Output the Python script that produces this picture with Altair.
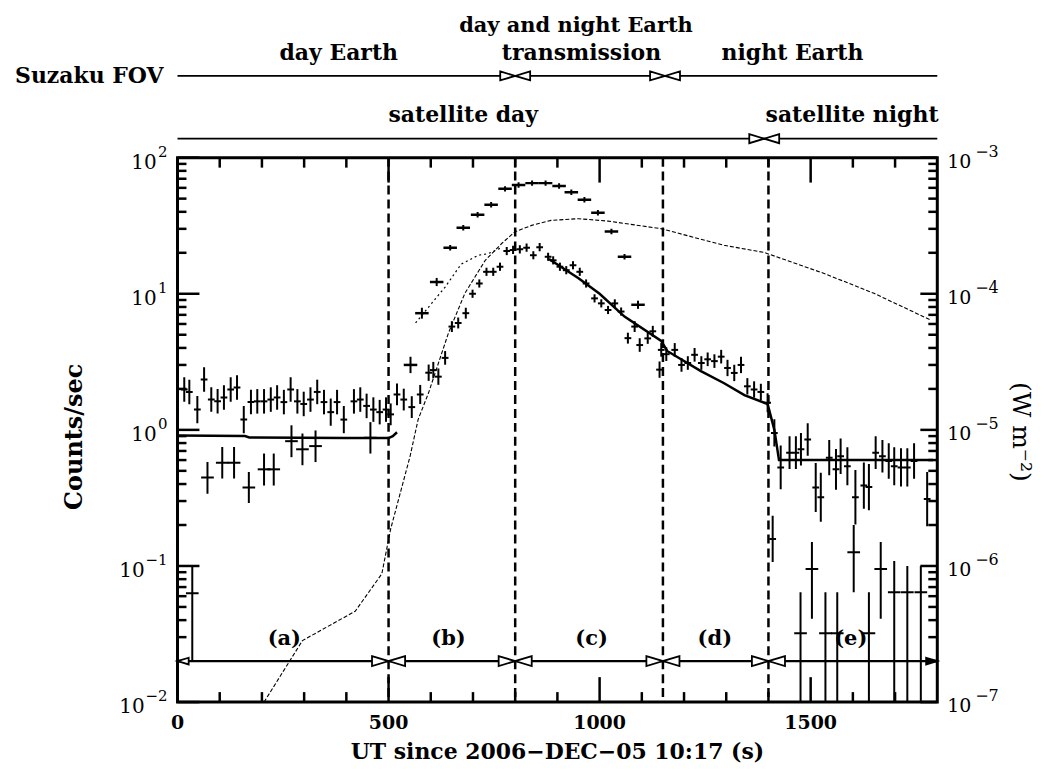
import altair as alt
import pandas as pd

# ---------------- data ----------------
# main light curve (counts/sec), 16 s bins, symmetric error in dex
main_t = [16, 28, 47, 63, 80, 95, 110, 126, 141, 157, 174, 189, 205, 221, 236, 252, 268, 284, 299, 315,
          331, 347, 363, 378, 394, 418, 433, 448, 464, 479, 494,
          505, 520, 536, 555, 575, 595, 606, 618, 634, 650, 665, 683, 699, 715, 732, 748, 764, 780, 795,
          811, 827, 843, 858, 878, 890, 906, 921, 937,
          953, 968, 988, 1004, 1020, 1036, 1051, 1067, 1083, 1095, 1114, 1126, 1142, 1146, 1158, 1178, 1194,
          1209, 1225, 1241, 1256, 1272, 1288, 1303, 1319, 1335, 1350, 1366, 1382, 1398,
          1410, 1414, 1429, 1450, 1465, 1477, 1493, 1512, 1524, 1544, 1560, 1571, 1587, 1606, 1626, 1638,
          1654, 1670, 1685, 1698, 1714, 1729, 1745, 1776]
main_v = [1.98, 1.9, 1.41, 2.34, 1.67, 1.62, 1.73, 1.98, 2.05, 1.19, 1.6, 1.62, 1.62, 1.67, 1.73, 1.6, 1.98, 1.62, 1.55, 1.67,
          1.9, 1.6, 1.35, 1.6, 1.19, 1.62, 1.67, 1.5, 1.41, 1.35, 1.41,
          1.3, 1.82, 1.67, 1.47, 1.82, 2.63, 2.75, 2.46, 3.38, 5.74, 6.1, 7.2, 10.0, 11.9, 14.5, 14.5, 15.8, 20.6, 21.0,
          21.2, 21.8, 19.2, 22.0, 18.7, 17.6, 15.8, 14.9, 16.2,
          14.5, 11.9, 9.25, 8.5, 7.6, 8.5, 7.4, 4.72, 5.74, 4.2, 4.7, 5.3, 2.77, 3.87, 3.6, 3.87, 3.0,
          3.1, 3.56, 3.1, 3.3, 3.2, 3.45, 2.85, 2.62, 3.0, 2.09, 1.98, 1.9, 1.58,
          0.158, 0.95, 0.53, 0.68, 0.68, 0.72, 0.85, 0.377, 0.32, 0.625, 0.513, 0.64, 0.54, 0.32, 0.39, 0.38,
          0.68, 0.64, 0.59, 0.54, 0.53, 0.53, 0.59, 0.31]
main_e = [0.09, 0.09, 0.1, 0.09, 0.09, 0.09, 0.09, 0.09, 0.09, 0.1, 0.09, 0.09, 0.09, 0.09, 0.09, 0.09, 0.09, 0.09, 0.09, 0.09,
          0.09, 0.09, 0.1, 0.09, 0.1, 0.09, 0.09, 0.09, 0.09, 0.09, 0.09,
          0.08, 0.08, 0.08, 0.08, 0.07, 0.06, 0.06, 0.06, 0.05, 0.04, 0.04, 0.04, 0.03, 0.03, 0.03, 0.03, 0.03, 0.03, 0.03,
          0.03, 0.03, 0.03, 0.03, 0.03, 0.03, 0.03, 0.03, 0.03,
          0.03, 0.03, 0.03, 0.03, 0.03, 0.03, 0.03, 0.04, 0.04, 0.05, 0.04, 0.04, 0.06, 0.05, 0.05, 0.05, 0.05,
          0.05, 0.05, 0.05, 0.05, 0.05, 0.05, 0.06, 0.06, 0.06, 0.06, 0.06, 0.06, 0.07,
          0.17, 0.1, 0.16, 0.12, 0.12, 0.12, 0.12, 0.18, 0.18, 0.13, 0.15, 0.13, 0.14, 0.2, 0.17, 0.17,
          0.12, 0.12, 0.13, 0.14, 0.14, 0.14, 0.13, 0.2]

# second (lower) band, 32 s bins, explicit error limits
low_t = [35, 71, 106, 134, 169, 205, 228, 270, 296, 327, 457,
         1476, 1503, 1535, 1563, 1602, 1638, 1666, 1698, 1729, 1761]
low_v = [0.063, 0.447, 0.574, 0.574, 0.377, 0.513, 0.513, 0.826, 0.72, 0.76, 0.875,
         0.032, 0.095, 0.032, 0.032, 0.126, 0.032, 0.095, 0.064, 0.064, 0.064]
low_lo = [0.02, 0.34, 0.44, 0.44, 0.29, 0.39, 0.39, 0.63, 0.55, 0.58, 0.67,
          0.005, 0.041, 0.005, 0.005, 0.064, 0.005, 0.041, 0.005, 0.005, 0.005]
low_hi = [0.1, 0.58, 0.75, 0.75, 0.49, 0.67, 0.67, 1.08, 0.94, 0.99, 1.14,
          0.064, 0.15, 0.064, 0.064, 0.2, 0.064, 0.15, 0.109, 0.1, 0.1]

# upper series of horizontal bars (32 s bins)
dash_t = [552, 579, 614, 646, 677, 711, 743, 776, 808, 840, 872, 904, 933, 964, 996, 1028, 1059, 1091]
dash_v = [3.0, 7.2, 12.2, 21.8, 30.6, 38.1, 45.1, 59.0, 63.0, 65.0, 65.0, 62.0, 55.7, 49.0, 39.4, 28.7, 18.7, 8.3]
dash_e = [0.06, 0.04, 0.03, 0.02, 0.02, 0.02, 0.02, 0.02, 0.02, 0.02, 0.02, 0.02, 0.02, 0.02, 0.02, 0.02, 0.02, 0.03]

# thin dotted curve in phase (b)
dot_t = [564, 602, 634, 672, 713, 736, 770]
dot_v = [6.1, 8.5, 11.2, 16.5, 19.2, 19.7, 22.0]

# solid model curve, in segments
model_t = [0, 160, 170, 400, 500, 510, 520,
           880, 950, 1000, 1059, 1146, 1160, 1240, 1295, 1343, 1398, 1414, 1425, 1600, 1790]
model_v = [0.91, 0.9, 0.88, 0.87, 0.87, 0.9, 0.96,
           18.0, 13.0, 10.0, 6.8, 4.5, 3.8, 2.7, 2.2, 1.8, 1.55, 1.0, 0.6, 0.6, 0.6]
model_seg = ["a"] * 7 + ["c"] * 14

# GOES flux (W m^-2, right axis)
goes_t = [205, 296, 421, 484, 505, 551, 570, 595, 642, 681, 729, 768, 799, 839, 885, 950, 1020, 1145,
          1295, 1390, 1532, 1650, 1784]
goes_f = [1.0e-7, 2.83e-7, 4.65e-7, 8.75e-7, 1.87e-6, 6.4e-6, 1.19e-5, 1.88e-5, 5.16e-5, 1.01e-4, 1.76e-4,
          2.34e-4, 2.85e-4, 3.18e-4, 3.46e-4, 3.56e-4, 3.42e-4, 3.01e-4, 2.27e-4, 2.01e-4, 1.41e-4, 1.007e-4, 6.42e-5]

# phases
phase_edges = [500, 800, 1150, 1400]
phase_level = 0.02
phase_names = ["(a)", "(b)", "(c)", "(d)", "(e)"]
phase_name_t = [253, 642, 981, 1273, 1595]
phase_name_level = 0.029

# annotations above the plot
fov_edges = [800, 1155]
fov_names = ["day Earth", "transmission", "night Earth"]
fov_name_t = [382, 957, 1457]
fov_extra = ["day and night Earth"]
fov_extra_t = [944]
sat_edges = [1390]
sat_names = ["satellite day", "satellite night"]
sat_name_t = [677, 1598]

# axes
x_major = [0, 500, 1000, 1500]
x_major_labels = ["0", "500", "1000", "1500"]
x_minor = [100, 200, 300, 400, 600, 700, 800, 900, 1100, 1200, 1300, 1400, 1600, 1700]
y_major = [0.01, 0.1, 1, 10, 100]
y_exp = ["\u22122", "\u22121", "0", "1", "2"]
y_minor = [m * 10.0 ** k for k in (-2, -1, 0, 1) for m in range(2, 10)]
g_major = [1e-7, 1e-6, 1e-5, 1e-4, 1e-3]
g_exp = ["\u22127", "\u22126", "\u22125", "\u22124", "\u22123"]
g_minor = [m * 10.0 ** k for k in (-7, -6, -5, -4) for m in range(2, 10)]

# ---------------- chart ----------------
W, H = 762, 546
K = "black"
SERIF = "DejaVu Serif"
xs = alt.Scale(domain=[0, 1800], nice=False, zero=False)
ys = alt.Scale(type="log", domain=[0.01, 100], nice=False)
gs = alt.Scale(type="log", domain=[1e-7, 1e-3], nice=False)


def X(f):
    return alt.X(f, type="quantitative", scale=xs, axis=None)


def Y(f):
    return alt.Y(f, type="quantitative", scale=ys, axis=None)


def G(f):
    return alt.Y(f, type="quantitative", scale=gs, axis=None)


layers = []

# data: main crosses
mb = alt.Chart(pd.DataFrame({"t": main_t, "v": main_v, "e": main_e})).transform_calculate(
    lo="datum.v*pow(10,-datum.e)", hi="datum.v*pow(10,datum.e)", t0="datum.t-8", t1="datum.t+8")
layers.append(mb.mark_rule(color=K, strokeWidth=2, clip=True).encode(x=X("t"), y=Y("lo"), y2="hi:Q"))
layers.append(mb.mark_rule(color=K, strokeWidth=2, clip=True).encode(x=X("t0"), x2="t1:Q", y=Y("v")))

# data: lower band
lb = alt.Chart(pd.DataFrame({"t": low_t, "v": low_v, "lo": low_lo, "hi": low_hi})).transform_calculate(
    t0="datum.t-15", t1="datum.t+15")
layers.append(lb.mark_rule(color=K, strokeWidth=2, clip=True).encode(x=X("t"), y=Y("lo"), y2="hi:Q"))
layers.append(lb.mark_rule(color=K, strokeWidth=2, clip=True).encode(x=X("t0"), x2="t1:Q", y=Y("v")))

# data: horizontal bars
db = alt.Chart(pd.DataFrame({"t": dash_t, "v": dash_v, "e": dash_e})).transform_calculate(
    lo="datum.v*pow(10,-datum.e)", hi="datum.v*pow(10,datum.e)", t0="datum.t-16", t1="datum.t+16")
layers.append(db.mark_rule(color=K, strokeWidth=2, clip=True).encode(x=X("t"), y=Y("lo"), y2="hi:Q"))
layers.append(db.mark_rule(color=K, strokeWidth=2.5, clip=True).encode(x=X("t0"), x2="t1:Q", y=Y("v")))

# dotted curve
layers.append(alt.Chart(pd.DataFrame({"t": dot_t, "v": dot_v})).mark_line(
    color=K, strokeWidth=1.2, strokeDash=[2, 3], clip=True).encode(x=X("t"), y=Y("v")))

# model
layers.append(alt.Chart(pd.DataFrame({"t": model_t, "v": model_v, "seg": model_seg})).mark_line(
    color=K, strokeWidth=2.5, clip=True).encode(x=X("t"), y=Y("v"), detail="seg:N"))

# GOES
layers.append(alt.Chart(pd.DataFrame({"t": goes_t, "f": goes_f})).mark_line(
    color=K, strokeWidth=1.1, strokeDash=[4, 2], clip=True).encode(x=X("t"), y=G("f")))

# phase boundaries
layers.append(alt.Chart(pd.DataFrame({"t": phase_edges})).mark_rule(
    color=K, strokeWidth=2.5, strokeDash=[9, 5]).encode(x=X("t"), y=alt.value(0), y2=alt.value(H)))

# ticks
xmaj = alt.Chart(pd.DataFrame({"t": x_major}))
xmin = alt.Chart(pd.DataFrame({"t": x_minor}))
for ch, ln in ((xmaj, 25), (xmin, 10)):
    layers.append(ch.mark_rule(color=K, strokeWidth=2.5).encode(x=X("t"), y=alt.value(H), y2=alt.value(H - ln)))
    layers.append(ch.mark_rule(color=K, strokeWidth=2.5).encode(x=X("t"), y=alt.value(0), y2=alt.value(ln)))
ymaj = alt.Chart(pd.DataFrame({"v": y_major}))
ymin = alt.Chart(pd.DataFrame({"v": y_minor}))
for ch, ln in ((ymaj, 22), (ymin, 9)):
    layers.append(ch.mark_rule(color=K, strokeWidth=2.5).encode(y=Y("v"), x=alt.value(0), x2=alt.value(ln)))
gmaj = alt.Chart(pd.DataFrame({"v": g_major}))
gmin = alt.Chart(pd.DataFrame({"v": g_minor}))
for ch, ln in ((gmaj, 17), (gmin, 9)):
    layers.append(ch.mark_rule(color=K, strokeWidth=2.5).encode(y=G("v"), x=alt.value(W), x2=alt.value(W - ln)))

# tick labels
layers.append(alt.Chart(pd.DataFrame({"t": x_major, "lab": x_major_labels})).mark_text(
    font=SERIF, fontSize=19, fontWeight="bold", align="center", baseline="middle", color=K).encode(
    x=X("t"), y=alt.value(H + 21), text="lab:N"))
yl = alt.Chart(pd.DataFrame({"v": y_major, "ex": y_exp}))
layers.append(yl.transform_filter("datum.v >= 1").mark_text(
    font=SERIF, fontSize=20, align="right", baseline="middle", dy=5, color=K).encode(
    x=alt.value(-21), y=Y("v"), text=alt.value("10")))
layers.append(yl.transform_filter("datum.v < 1").mark_text(
    font=SERIF, fontSize=20, align="right", baseline="middle", dy=5, color=K).encode(
    x=alt.value(-33), y=Y("v"), text=alt.value("10")))
layers.append(yl.mark_text(font=SERIF, fontSize=15, align="right", baseline="middle", dy=-6, color=K).encode(
    x=alt.value(-10), y=Y("v"), text="ex:N"))
gl = alt.Chart(pd.DataFrame({"v": g_major, "ex": g_exp}))
layers.append(gl.mark_text(font=SERIF, fontSize=19, align="left", baseline="middle", dy=4, color=K).encode(
    x=alt.value(W + 10), y=G("v"), text=alt.value("10")))
layers.append(gl.mark_text(font=SERIF, fontSize=16, align="left", baseline="middle", dy=-6, color=K).encode(
    x=alt.value(W + 38), y=G("v"), text="ex:N"))

# axis titles
layers.append(alt.Chart(pd.DataFrame({"s": ["UT since 2006\u2212DEC\u221205 10:17 (s)"]})).mark_text(
    font=SERIF, fontSize=22, fontWeight="bold", align="center", baseline="middle", color=K).encode(
    x=alt.value(W / 2), y=alt.value(H + 50), text="s:N"))
layers.append(alt.Chart(pd.DataFrame({"s": ["Counts/sec"]})).mark_text(
    font=SERIF, fontSize=24, fontWeight="bold", align="center", baseline="middle", angle=270, color=K).encode(
    x=alt.value(-103), y=alt.value(280), text="s:N"))
layers.append(alt.Chart(pd.DataFrame({"s": ["(W m\u207b\u00b2)"]})).mark_text(
    font=SERIF, fontSize=25, align="center", baseline="middle", angle=90, color=K).encode(
    x=alt.value(W + 84), y=alt.value(275), text="s:N"))

# bow-tie markers
BOW = "M-1,-0.3L0,0L-1,0.3Z M1,-0.3L0,0L1,0.3Z"
LEFT_TRI = "M1,-0.3L0,0L1,0.3Z"
RIGHT_TRI = "M-1,-0.3L0,0L-1,0.3Z"

# phase line at bottom
layers.append(alt.Chart(pd.DataFrame({"t": [0], "t2": [1800], "v": [phase_level]})).mark_rule(
    color=K, strokeWidth=2.2).encode(x=X("t"), x2="t2:Q", y=Y("v")))
layers.append(alt.Chart(pd.DataFrame({"t": phase_edges, "v": [phase_level] * len(phase_edges)})).mark_point(
    shape=BOW, size=1100, filled=True, fill="white", stroke=K, strokeWidth=1.8, opacity=1).encode(
    x=X("t"), y=Y("v")))
layers.append(alt.Chart(pd.DataFrame({"t": [0], "v": [phase_level]})).mark_point(
    shape=LEFT_TRI, size=500, filled=True, fill="white", stroke=K, strokeWidth=1.8, opacity=1).encode(
    x=X("t"), y=Y("v")))
layers.append(alt.Chart(pd.DataFrame({"t": [1800], "v": [phase_level]})).mark_point(
    shape=RIGHT_TRI, size=500, filled=True, fill=K, stroke=K, strokeWidth=1.8, opacity=1).encode(
    x=X("t"), y=Y("v")))
layers.append(alt.Chart(pd.DataFrame({"t": phase_name_t, "lab": phase_names, "v": [phase_name_level] * 5})).mark_text(
    font=SERIF, fontSize=21, fontWeight="bold", align="center", baseline="middle", color=K).encode(
    x=X("t"), y=Y("v"), text="lab:N"))

# top annotation rows
FOV_Y, SAT_Y = -82, -19
for yrow, edges in ((FOV_Y, fov_edges), (SAT_Y, sat_edges)):
    layers.append(alt.Chart(pd.DataFrame({"t": [0], "t2": [1800]})).mark_rule(
        color=K, strokeWidth=1.8).encode(x=X("t"), x2="t2:Q", y=alt.value(yrow)))
    layers.append(alt.Chart(pd.DataFrame({"t": edges})).mark_point(
        shape=BOW, size=900, filled=True, fill="white", stroke=K, strokeWidth=1.8, opacity=1).encode(
        x=X("t"), y=alt.value(yrow)))

txt = dict(font=SERIF, fontSize=22, fontWeight="bold", baseline="middle", color=K)
layers.append(alt.Chart(pd.DataFrame({"s": ["Suzaku FOV"]})).mark_text(align="right", **txt).encode(
    x=alt.value(-14), y=alt.value(FOV_Y), text="s:N"))
layers.append(alt.Chart(pd.DataFrame({"t": fov_name_t, "s": fov_names})).mark_text(align="center", **txt).encode(
    x=X("t"), y=alt.value(-105), text="s:N"))
layers.append(alt.Chart(pd.DataFrame({"t": fov_extra_t, "s": fov_extra})).mark_text(
    align="center", font=SERIF, fontSize=21, fontWeight="bold", baseline="middle", color=K).encode(
    x=X("t"), y=alt.value(-132), text="s:N"))
layers.append(alt.Chart(pd.DataFrame({"t": sat_name_t, "s": sat_names})).mark_text(align="center", **txt).encode(
    x=X("t"), y=alt.value(-43), text="s:N"))

chart = alt.layer(*layers).resolve_scale(y="independent").properties(
    width=W, height=H,
    autosize=alt.AutoSizeParams(type="none"),
    padding={"left": 170, "top": 149, "right": 100, "bottom": 60},
).configure_view(stroke=K, strokeWidth=3)

chart.save("out.html", embed_options={"renderer": "svg", "actions": False})
